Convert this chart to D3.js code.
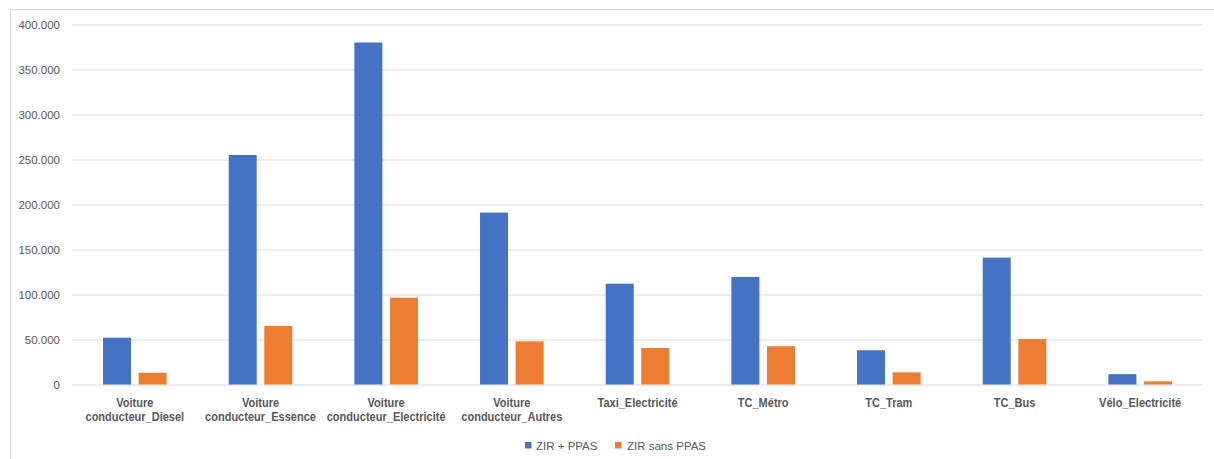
<!DOCTYPE html>
<html>
<head>
<meta charset="utf-8">
<script src="https://cdn.jsdelivr.net/npm/d3@7"></script>
<style>
  html, body { margin: 0; padding: 0; background: #ffffff; }
  svg { display: block; }
</style>
</head>
<body>
<svg id="chart" width="1214" height="459"></svg>
<script>
// Mode categories (line breaks mark the two-line labels)
const categories = [
  "Voiture\nconducteur_Diesel",
  "Voiture\nconducteur_Essence",
  "Voiture\nconducteur_Electricité",
  "Voiture\nconducteur_Autres",
  "Taxi_Electricité",
  "TC_Métro",
  "TC_Tram",
  "TC_Bus",
  "Vélo_Electricité"
];
const seriesNames = ["ZIR + PPAS", "ZIR sans PPAS"];
const zirPPAS     = [52000, 255000, 380000, 191000, 112000, 119500, 38000, 141000, 11500];
const zirSansPPAS = [13000, 65000, 96500, 48000, 40500, 42500, 13500, 50500, 3500];
const yTicks = [0, 50000, 100000, 150000, 200000, 250000, 300000, 350000, 400000];

const colors = { "ZIR + PPAS": "#4472C4", "ZIR sans PPAS": "#ED7D31" };
const rows = categories.map((c, i) => ({
  cat: c,
  values: [
    { key: seriesNames[0], value: zirPPAS[i] },
    { key: seriesNames[1], value: zirSansPPAS[i] }
  ]
}));

const svg = d3.select("#chart");
const fmt = d3.formatLocale({ decimal: ",", thousands: ".", grouping: [3], currency: ["", "€"] }).format(",d");

// chart frame
svg.append("rect")
  .attr("x", 10.5).attr("y", 9.5)
  .attr("width", 1215).attr("height", 460)
  .attr("fill", "#ffffff").attr("stroke", "#d9d9d9").attr("stroke-width", 1);

const plot = { left: 72, right: 1203, top: 24.5, bottom: 384.5 };

const x0 = d3.scaleBand().domain(categories).range([plot.left, plot.right]).padding(0);
const x1 = d3.scaleBand().domain(seriesNames).range([0, x0.bandwidth()])
  .paddingInner(0.2135).paddingOuter(0.872);
const y = d3.scaleLinear().domain([0, 400000]).range([plot.bottom, plot.top]);

// horizontal gridlines + value labels
const yAxis = d3.axisLeft(y).tickValues(yTicks).tickFormat(fmt)
  .tickSize(-(plot.right - plot.left)).tickPadding(12);
const gy = svg.append("g").attr("transform", `translate(${plot.left},0)`).call(yAxis);
gy.select(".domain").remove();
gy.selectAll(".tick line").attr("stroke", "#d9d9d9").attr("stroke-width", 1);
gy.selectAll(".tick text")
  .attr("fill", "#595959")
  .style("font-family", "'Liberation Sans', Arial, sans-serif")
  .style("font-size", "11.5px");

// bars
const groups = svg.append("g").selectAll("g")
  .data(rows).join("g")
  .attr("transform", d => `translate(${x0(d.cat)},0)`);
groups.selectAll("rect")
  .data(d => d.values).join("rect")
  .attr("x", d => x1(d.key))
  .attr("width", x1.bandwidth())
  .attr("y", d => y(d.value))
  .attr("height", d => y(0) - y(d.value))
  .attr("fill", d => colors[d.key]);

// category labels (bold, slightly condensed)
const xl = svg.append("g").selectAll("text")
  .data(categories).join("text")
  .attr("transform", d => `translate(${x0(d) + x0.bandwidth() / 2},407) scale(0.92,1)`)
  .attr("text-anchor", "middle")
  .attr("fill", "#595959")
  .style("font-family", "'Liberation Sans', Arial, sans-serif")
  .style("font-weight", "bold")
  .style("font-size", "12px");
xl.each(function(d) {
  d3.select(this).selectAll("tspan")
    .data(d.split("\n")).join("tspan")
    .attr("x", 0)
    .attr("dy", (l, i) => i === 0 ? 0 : 14.3)
    .text(l => l);
});

// legend
const legendItems = [
  { key: seriesNames[0], sx: 525, tx: 536 },
  { key: seriesNames[1], sx: 615, tx: 627 }
];
const lg = svg.append("g");
lg.selectAll("rect").data(legendItems).join("rect")
  .attr("x", d => d.sx).attr("y", 442)
  .attr("width", 6.5).attr("height", 6.5)
  .attr("fill", d => colors[d.key]);
lg.selectAll("text").data(legendItems).join("text")
  .attr("x", d => d.tx).attr("y", 450)
  .attr("fill", "#595959")
  .style("font-family", "'Liberation Sans', Arial, sans-serif")
  .style("font-size", "11.5px")
  .text(d => d.key);
</script>
</body>
</html>
